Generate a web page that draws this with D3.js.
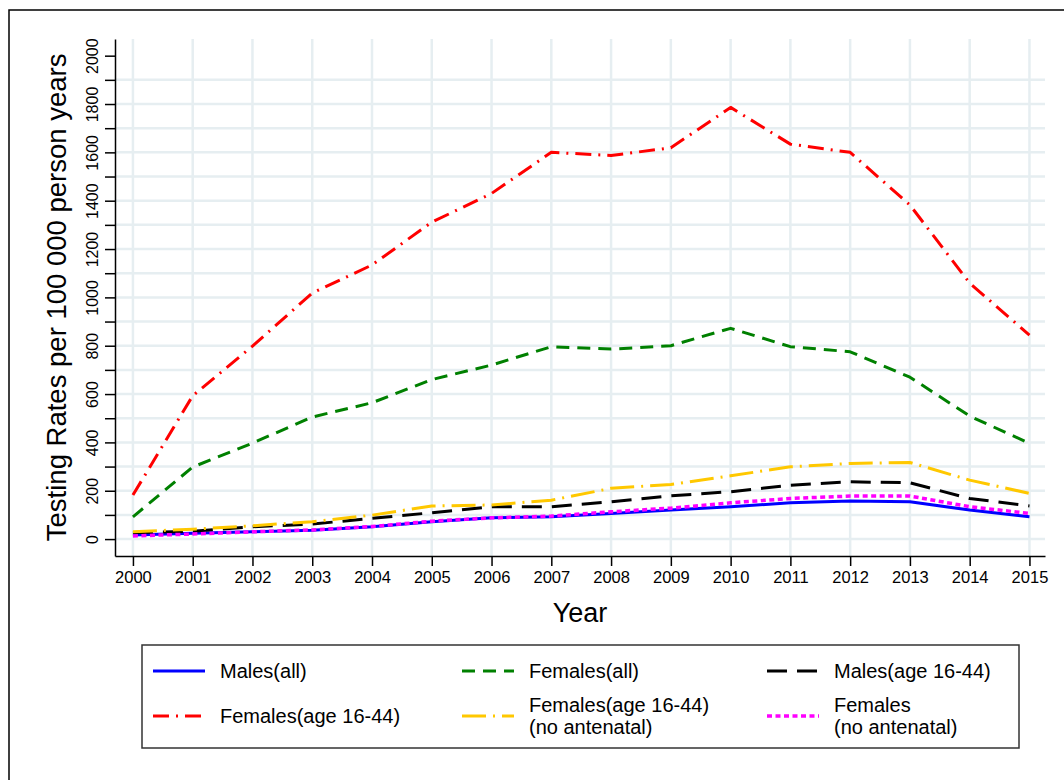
<!DOCTYPE html>
<html>
<head>
<meta charset="utf-8">
<script src="https://d3js.org/d3.v7.min.js"></script>
<style>
    body { margin: 0; background: #fff; }
    svg { display: block; font-family: "Liberation Sans", Arial, sans-serif; }
</style>
</head>
<body>
<div id="chart"></div>
<script>
// Data
const years = [2000, 2001, 2002, 2003, 2004, 2005, 2006, 2007, 2008, 2009, 2010, 2011, 2012, 2013, 2014, 2015];

const malesAll = [17, 24, 30, 37, 51, 72, 88, 92, 106, 120, 134, 150, 158, 154, 120, 92];
const femalesAll = [92, 298, 397, 505, 564, 660, 720, 796, 786, 800, 872, 796, 775, 670, 509, 396];
const males1644 = [26, 32, 51, 62, 86, 109, 134, 134, 154, 179, 196, 223, 237, 233, 168, 137];
const females1644 = [182, 593, 798, 1018, 1134, 1311, 1430, 1600, 1587, 1619, 1786, 1634, 1600, 1382, 1059, 844];
const females1644NoAnt = [30, 41, 55, 72, 99, 137, 141, 161, 210, 226, 262, 299, 313, 317, 244, 189];
const femalesNoAnt = [13, 21, 30, 38, 52, 74, 88, 95, 113, 128, 150, 168, 178, 178, 134, 106];

const seriesNames = [
    ['Males(all)'],
    ['Females(all)'],
    ['Males(age 16-44)'],
    ['Females(age 16-44)'],
    ['Females(age 16-44)', '(no antenatal)'],
    ['Females', '(no antenatal)']
];

const yTicks = d3.range(0, 2001, 200);
const yMinorTicks = d3.range(0, 2001, 100);
const yGrid = d3.range(0, 1901, 100);

const series = [
    { name: seriesNames[0], values: malesAll, color: '#0000ff', dash: null, width: 3 },
    { name: seriesNames[1], values: femalesAll, color: '#008000', dash: '13 8', width: 3 },
    { name: seriesNames[2], values: males1644, color: '#000000', dash: '20 10', width: 3 },
    { name: seriesNames[3], values: females1644, color: '#ff0000', dash: '16 7 2 7', width: 3 },
    { name: seriesNames[4], values: females1644NoAnt, color: '#ffc800', dash: '24 7 2 7', width: 3 },
    { name: seriesNames[5], values: femalesNoAnt, color: '#ff00ff', dash: '5 3.5', width: 3.5 }
];

const width = 1064;
const height = 780;

const svg = d3.select('#chart')
    .append('svg')
    .attr('width', width)
    .attr('height', height);

// outer frame (only top and left edges are inside the picture)
svg.append('rect')
    .attr('x', 9)
    .attr('y', 10)
    .attr('width', 1200)
    .attr('height', 900)
    .attr('fill', 'none')
    .attr('stroke', '#000')
    .attr('stroke-width', 1.5);

const x = d3.scaleLinear()
    .domain([1999.7, 2015.26])
    .range([115, 1045]);

const y = d3.scaleLinear()
    .domain([-70, 2069])
    .range([556, 39]);

const gridColor = '#e6eef1';

// gridlines
svg.append('g')
    .selectAll('line')
    .data(yGrid)
    .enter()
    .append('line')
    .attr('x1', x.range()[0])
    .attr('x2', x.range()[1])
    .attr('y1', d => y(d))
    .attr('y2', d => y(d))
    .attr('stroke', gridColor)
    .attr('stroke-width', 2.5);

svg.append('g')
    .selectAll('line')
    .data(years)
    .enter()
    .append('line')
    .attr('x1', d => x(d))
    .attr('x2', d => x(d))
    .attr('y1', y.range()[0])
    .attr('y2', y.range()[1])
    .attr('stroke', gridColor)
    .attr('stroke-width', 2.5);

// axes
const xAxis = d3.axisBottom(x)
    .tickValues(years)
    .tickFormat(d3.format('d'))
    .tickSize(10)
    .tickPadding(5)
    .tickSizeOuter(0);

const gx = svg.append('g')
    .attr('transform', `translate(0,${y.range()[0]})`)
    .call(xAxis);
gx.selectAll('text').attr('font-size', 16.5).attr('fill', '#000').attr('font-family', null);
gx.select('.domain').attr('stroke-width', 1.5);
gx.selectAll('.tick line').attr('stroke-width', 1.5);

const yAxis = d3.axisLeft(y)
    .tickValues(yMinorTicks)
    .tickFormat(d => (d % 200 === 0 ? d : ''))
    .tickSize(10)
    .tickPadding(6)
    .tickSizeOuter(0);

const gy = svg.append('g')
    .attr('transform', `translate(${x.range()[0]},0)`)
    .call(yAxis);
gy.select('.domain').attr('stroke-width', 1.5);
gy.selectAll('.tick line').attr('stroke-width', 1.5);
gy.selectAll('text')
    .attr('font-size', 16)
    .attr('fill', '#000')
    .attr('font-family', null)
    .attr('dy', null)
    .attr('x', null)
    .attr('text-anchor', 'middle')
    .attr('transform', 'translate(-17,0) rotate(-90)');

// axis titles
svg.append('text')
    .attr('x', (x.range()[0] + x.range()[1]) / 2)
    .attr('y', 622)
    .attr('text-anchor', 'middle')
    .attr('font-size', 27)
    .text('Year');

svg.append('text')
    .attr('transform', `translate(66,${(y(0) + y(2000)) / 2}) rotate(-90)`)
    .attr('text-anchor', 'middle')
    .attr('font-size', 27.5)
    .text('Testing Rates per 100 000 person years');

// lines
const line = d3.line()
    .x((d, i) => x(years[i]))
    .y(d => y(d));

svg.append('g')
    .selectAll('path')
    .data(series)
    .enter()
    .append('path')
    .attr('d', d => line(d.values))
    .attr('fill', 'none')
    .attr('stroke', d => d.color)
    .attr('stroke-width', d => d.width)
    .attr('stroke-dasharray', d => d.dash)
    .attr('stroke-linejoin', 'round');

// legend
const legend = svg.append('g');

legend.append('rect')
    .attr('x', 142)
    .attr('y', 645)
    .attr('width', 877)
    .attr('height', 103)
    .attr('fill', '#fff')
    .attr('stroke', '#333')
    .attr('stroke-width', 1.5);

const colX = [153, 462, 767];
const rowY = [671, 716];

const items = legend.selectAll('g.item')
    .data(series)
    .enter()
    .append('g')
    .attr('class', 'item')
    .attr('transform', (d, i) => `translate(${colX[i % 3]},${rowY[Math.floor(i / 3)]})`);

items.append('line')
    .attr('x1', 0)
    .attr('x2', 52)
    .attr('stroke', d => d.color)
    .attr('stroke-width', d => d.width)
    .attr('stroke-dasharray', d => d.dash);

items.append('text')
    .attr('x', 67)
    .attr('font-size', 20)
    .each(function(d) {
        const t = d3.select(this);
        const n = d.name.length;
        d.name.forEach((s, k) => {
            t.append('tspan')
                .attr('x', 67)
                .attr('y', (k - (n - 1) / 2) * 22)
                .attr('dy', '0.35em')
                .text(s);
        });
    });
</script>
</body>
</html>
